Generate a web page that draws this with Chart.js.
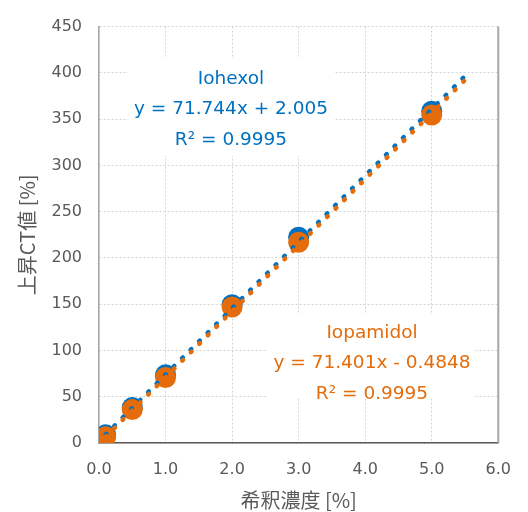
<!DOCTYPE html>
<html>
<head>
<meta charset="utf-8">
<script src="https://cdn.jsdelivr.net/npm/chart.js@4"></script>
<style>
  body { margin: 0; background: #fff; }
  #wrap { width: 528px; height: 512px; }
</style>
</head>
<body>
<div id="wrap"><canvas id="ctChart" width="528" height="512"></canvas></div>
<script>
// 希釈濃度 [%]
const concentrations = [0.1, 0.5, 1.0, 2.0, 3.0, 5.0];
// 上昇CT値 [%]
const iohexolValues = [8.8, 38.3, 73.7, 149.5, 222.4, 358.5];
const iopamidolValues = [6.7, 36.1, 70.8, 147.0, 217.0, 354.5];

// trendline end points (0.1 .. 5.5, forward forecast 0.5)
const trendX = [0.1, 5.5];
const iohexolTrend = [9.2, 396.6];
const iopamidolTrend = [6.7, 392.2];

const xTicks = [0, 1, 2, 3, 4, 5, 6];
const yTicks = [0, 50, 100, 150, 200, 250, 300, 350, 400, 450];

const iohexolLabel = ['Iohexol', 'y = 71.744x + 2.005', 'R² = 0.9995'];
const iopamidolLabel = ['Iopamidol', 'y = 71.401x - 0.4848', 'R² = 0.9995'];

const BLUE = '#0070C0';
const ORANGE = '#E46C0A';
const TEXT = '#595959';

const toPoints = (xs, ys) => xs.map((x, i) => ({ x: x, y: ys[i] }));

// text boxes + right frame line
const labelsPlugin = {
    id: 'labels',
    afterDraw(chart) {
        const ctx = chart.ctx;
        const area = chart.chartArea;

        ctx.save();
        ctx.strokeStyle = '#A6A6A6';
        ctx.lineWidth = 2;
        ctx.beginPath();
        ctx.moveTo(area.right, area.top);
        ctx.lineTo(area.right, area.bottom);
        ctx.stroke();
        ctx.restore();

        const drawBox = (lines, color, cx, cy, box) => {
            ctx.save();
            ctx.beginPath();
            ctx.rect(box[0], box[1], box[2], box[3]);
            ctx.clip();
            ctx.fillStyle = '#fff';
            ctx.fillRect(box[0], box[1], box[2], box[3]);
            ctx.fillStyle = color;
            ctx.font = '18.5px "DejaVu Sans"';
            ctx.textAlign = 'center';
            ctx.textBaseline = 'middle';
            lines.forEach((t, i) => ctx.fillText(t, cx, cy + i * 30.5));
            ctx.restore();
        };
        drawBox(iohexolLabel, BLUE, 231, 79, [128, 58, 206, 98]);
        drawBox(iopamidolLabel, ORANGE, 372, 333, [268, 313, 207, 86]);
    }
};

new Chart(document.getElementById('ctChart'), {
    type: 'scatter',
    data: {
        datasets: [
            {
                label: 'Iopamidol trend',
                data: toPoints(trendX, iopamidolTrend),
                showLine: true,
                borderColor: ORANGE,
                borderWidth: 4.5,
                borderDash: [1, 11],
                borderCapStyle: 'round',
                pointRadius: 0,
                order: 0
            },
            {
                label: 'Iohexol trend',
                data: toPoints(trendX, iohexolTrend),
                showLine: true,
                borderColor: BLUE,
                borderWidth: 4.5,
                borderDash: [1, 11],
                borderCapStyle: 'round',
                pointRadius: 0,
                order: 1
            },
            {
                label: 'Iopamidol',
                data: toPoints(concentrations, iopamidolValues),
                backgroundColor: ORANGE,
                borderColor: ORANGE,
                borderWidth: 0,
                pointRadius: 10.5,
                order: 2
            },
            {
                label: 'Iohexol',
                data: toPoints(concentrations, iohexolValues),
                backgroundColor: BLUE,
                borderColor: BLUE,
                borderWidth: 0,
                pointRadius: 10.5,
                order: 3
            }
        ]
    },
    options: {
        responsive: false,
        animation: false,
        layout: { padding: { top: 20, right: 22, left: 0, bottom: 0 } },
        plugins: {
            legend: { display: false },
            tooltip: { enabled: false }
        },
        scales: {
            x: {
                type: 'linear',
                min: 0,
                max: 6,
                afterFit: s => { s.height = 69; },
                afterBuildTicks: s => { s.ticks = xTicks.map(v => ({ value: v })); },
                ticks: {
                    color: TEXT,
                    font: { family: 'DejaVu Sans', size: 16 },
                    padding: 17,
                    maxRotation: 0,
                    callback: v => v.toFixed(1)
                },
                grid: { color: '#D4D4D4', lineWidth: 1, drawTicks: false },
                border: { color: '#595959', width: 1.5, dash: [2, 2] },
                title: {
                    display: true,
                    text: '希釈濃度 [%]',
                    color: TEXT,
                    font: { family: '"Noto Sans CJK JP"', size: 20, lineHeight: 1 },
                    padding: { top: 0, bottom: 2 }
                }
            },
            y: {
                min: 0,
                max: 450,
                afterFit: s => { s.width = 99; },
                afterBuildTicks: s => { s.ticks = yTicks.map(v => ({ value: v })); },
                ticks: {
                    color: TEXT,
                    font: { family: 'DejaVu Sans', size: 16 },
                    padding: 17
                },
                grid: { color: '#D4D4D4', lineWidth: 1, drawTicks: false },
                border: { color: '#A6A6A6', width: 1.5, dash: [2, 2] },
                title: {
                    display: true,
                    text: '上昇CT値 [%]',
                    color: TEXT,
                    font: { family: '"Noto Sans CJK JP"', size: 20, lineHeight: 1 },
                    padding: { top: 17, bottom: 0 }
                }
            }
        }
    },
    plugins: [labelsPlugin]
});
</script>
</body>
</html>
